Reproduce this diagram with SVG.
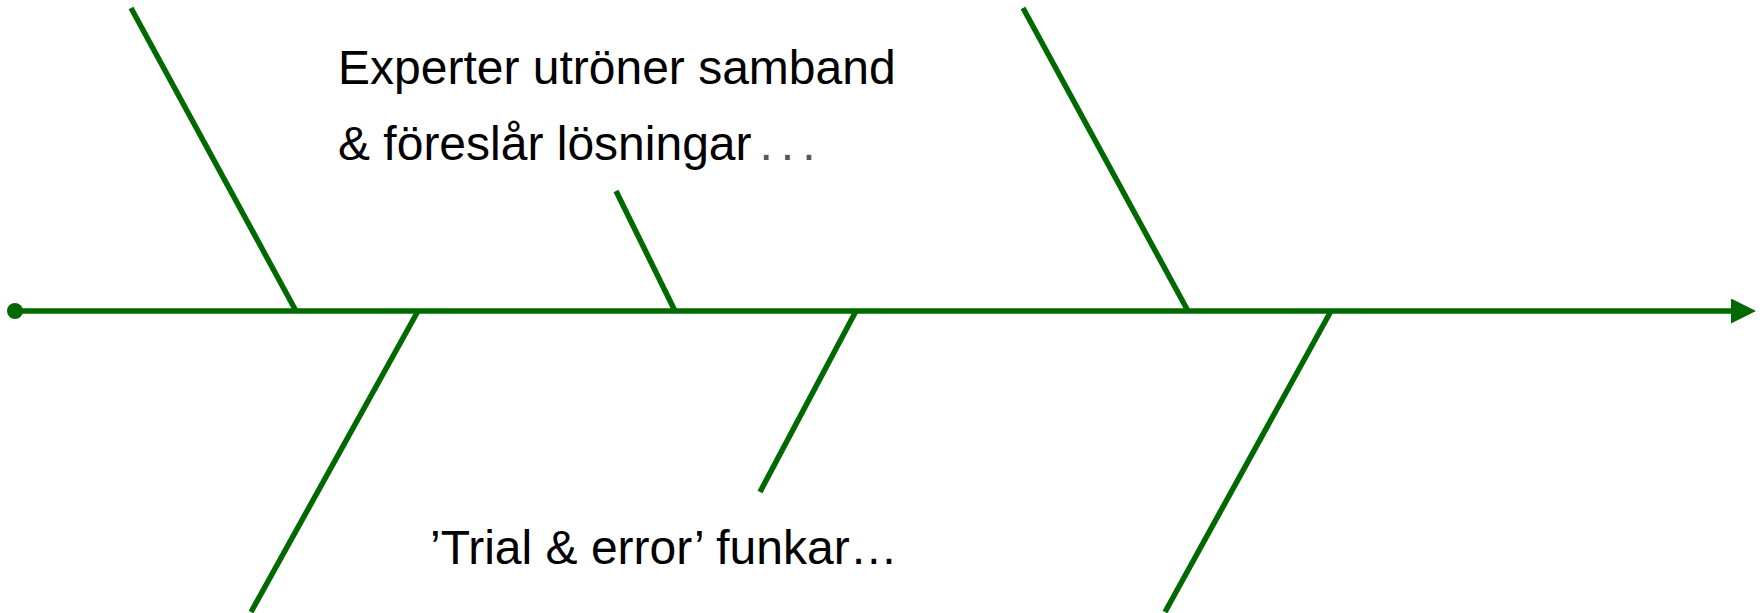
<svg xmlns="http://www.w3.org/2000/svg" width="1763" height="613" viewBox="0 0 1763 613">
<style>
.bone{stroke:#006a00;stroke-width:5.5;fill:none}
.lbl{font-family:"Liberation Sans",Arial,sans-serif;fill:#000;font-size:48px}
</style>
<defs>
<marker id="arr" viewBox="0 0 10 10" refX="0" refY="5" markerWidth="25" markerHeight="25" markerUnits="userSpaceOnUse" orient="auto">
<path d="M0,0 L10,5 L0,10 Z" fill="#006a00"/>
</marker>
</defs>
<rect width="1763" height="613" fill="#fff"/>
<g id="connectors">
<line class="bone" x1="15" y1="311" x2="1731" y2="311" marker-end="url(#arr)"/>
<circle cx="15" cy="311" r="8" fill="#006a00"/>
<line class="bone" x1="131" y1="8" x2="296" y2="311"/>
<line class="bone" x1="1023" y1="8" x2="1188" y2="311"/>
<line class="bone" x1="418" y1="311" x2="251" y2="612"/>
<line class="bone" x1="1331" y1="311" x2="1165" y2="612"/>
<line class="bone" x1="616" y1="191" x2="675" y2="311"/>
<line class="bone" x1="856" y1="311" x2="760" y2="492"/>
</g>
<g id="label-top">
<text class="lbl" x="338" y="84">Experter utröner samband</text>
<text class="lbl" x="338" y="160">&amp; föreslår lösningar<tspan fill="#555" dx="8" letter-spacing="8">...</tspan></text>
</g>
<g id="label-bottom">
<text class="lbl" x="430" y="564">’Trial &amp; error’ funkar…</text>
</g>
</svg>
